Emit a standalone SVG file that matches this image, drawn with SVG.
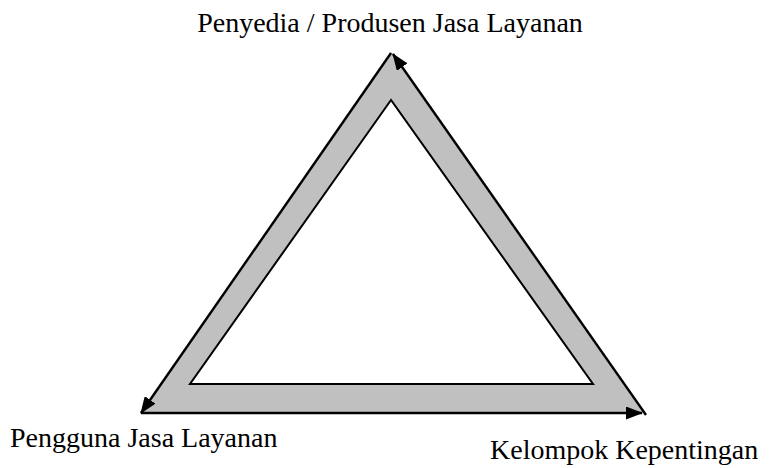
<svg xmlns="http://www.w3.org/2000/svg" width="774" height="468" viewBox="0 0 774 468">
<style>
.t{font-family:"Liberation Serif","Times New Roman",serif;font-size:28px;fill:#000}
.c{stroke:#000;stroke-width:2.4;fill:none}
</style>
<defs>
<marker id="ah" markerWidth="17" markerHeight="13" refX="16" refY="6.5" orient="auto" markerUnits="userSpaceOnUse" viewBox="0 0 17 13">
<path d="M0,0 L17,6.5 L0,13 Z" fill="#000"/>
</marker>
</defs>
<rect width="774" height="468" fill="#fff"/>
<g id="band">
<path d="M391,52 L140,413 L643,413 Z M391,100 L190,384 L593,384 Z" fill="#c0c0c0" fill-rule="evenodd"/>
<path d="M391,100 L190,384 L593,384 Z" fill="#fff" stroke="#000" stroke-width="2"/>
</g>
<g id="connectors">
<line class="c" x1="391" y1="53" x2="141" y2="413" marker-end="url(#ah)"/>
<line class="c" x1="141" y1="413" x2="642" y2="413" marker-end="url(#ah)"/>
<line class="c" x1="646" y1="415" x2="393" y2="54" marker-end="url(#ah)"/>
</g>
<g id="node-top"><text class="t" x="390" y="32" text-anchor="middle">Penyedia / Produsen Jasa Layanan</text></g>
<g id="node-left"><text class="t" x="10" y="447">Pengguna Jasa Layanan</text></g>
<g id="node-right"><text class="t" x="490" y="459">Kelompok Kepentingan</text></g>
</svg>
